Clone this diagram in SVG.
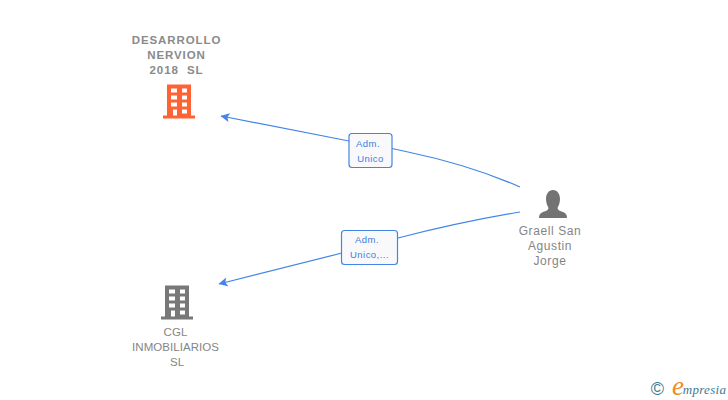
<svg xmlns="http://www.w3.org/2000/svg" width="728" height="400" viewBox="0 0 728 400">
<style>
text{font-family:"Liberation Sans",Arial,sans-serif;text-anchor:middle}
.n{font-size:11.500px;fill:#858585}
.b{font-weight:bold;letter-spacing:.9px;fill:#8a8a8a}
.p{font-size:12px;letter-spacing:.6px}
.i{letter-spacing:.05px}
.l{font-size:9.500px;fill:#3a7de0;letter-spacing:.45px}
.c{fill:none;stroke:#4285e6;stroke-width:1.200}
.box{fill:#f9f9fb;stroke:#4285e6;stroke-width:1.200}
</style>
<defs>
<marker id="a" markerWidth="10" markerHeight="10" refX="8.500" refY="5" orient="auto" markerUnits="userSpaceOnUse"><path d="M9 5L0 0.500L2 5L0 9.500Z" fill="#4285e6"/></marker>
<g id="bld">
<path fill-rule="evenodd" d="M-12 -17H12V14H16V17H-16V14H-12ZM-8 -13V-9H-2V-13ZM3 -13V-9H8V-13ZM-8 -6V-2H-2V-6ZM3 -6V-2H8V-6ZM-8 1V5H-2V1ZM3 1V5H8V1ZM-6 8V14H-2V8ZM3 8V12H8V8Z"/>
</g>
</defs>
<g id="connectors">
<path class="c" d="M520 187Q470 165 408 152L392 148.500M349 141L221 116" marker-end="url(#a)"/>
<path class="c" d="M520 212Q460 222 398 238M342 253L219 284" marker-end="url(#a)"/>
</g>
<g id="node-desarrollo">
<text class="n b" x="176.500" y="44">DESARROLLO</text>
<text class="n b" x="176.500" y="59">NERVION</text>
<text class="n b" x="176.500" y="74" xml:space="preserve">2018  SL</text>
<use href="#bld" x="179" y="101.500" fill="#ff6233"/>
</g>
<g id="node-cgl">
<use href="#bld" x="177" y="302.500" fill="#787878"/>
<text class="n i" x="175.500" y="336">CGL</text>
<text class="n i" x="175.500" y="351">INMOBILIARIOS</text>
<text class="n i" x="177" y="366">SL</text>
</g>
<g id="node-graell">
<path fill="#737373" d="M553 190C557.500 190 560 194 560 199C560 203 558.500 206 557.500 208C557.500 210 560 211 563 212C566 213 567 215 567 218H539C539 215 540 213 543 212C546 211 548.500 210 548.500 208C547.500 206 546 203 546 199C546 194 548.500 190 553 190Z"/>
<text class="n p" x="550" y="235">Graell San</text>
<text class="n p" x="550" y="250">Agustin</text>
<text class="n p" x="550" y="265">Jorge</text>
</g>
<g id="label-adm1">
<rect class="box" x="349" y="133.500" width="43" height="34" rx="3"/>
<text class="l" x="368" y="147">Adm.</text>
<text class="l" x="370.500" y="162">Unico</text>
</g>
<g id="label-adm2">
<rect class="box" x="341.500" y="230.500" width="56" height="34" rx="3"/>
<text class="l" x="367" y="243">Adm.</text>
<text class="l" x="369.500" y="258">Unico,...</text>
</g>
<g id="brand">
<text x="657.500" y="395" style="font-size:18px;fill:#3b7a94">©</text>
<text x="678" y="395" style="font-family:'Liberation Serif',serif;font-style:italic;font-size:27px;fill:#f28c1e">e</text>
<text x="704.500" y="393.500" style="font-family:'Liberation Serif',serif;font-style:italic;font-size:13px;fill:#3b7a94;letter-spacing:.3px">mpresia</text>
</g>
</svg>
